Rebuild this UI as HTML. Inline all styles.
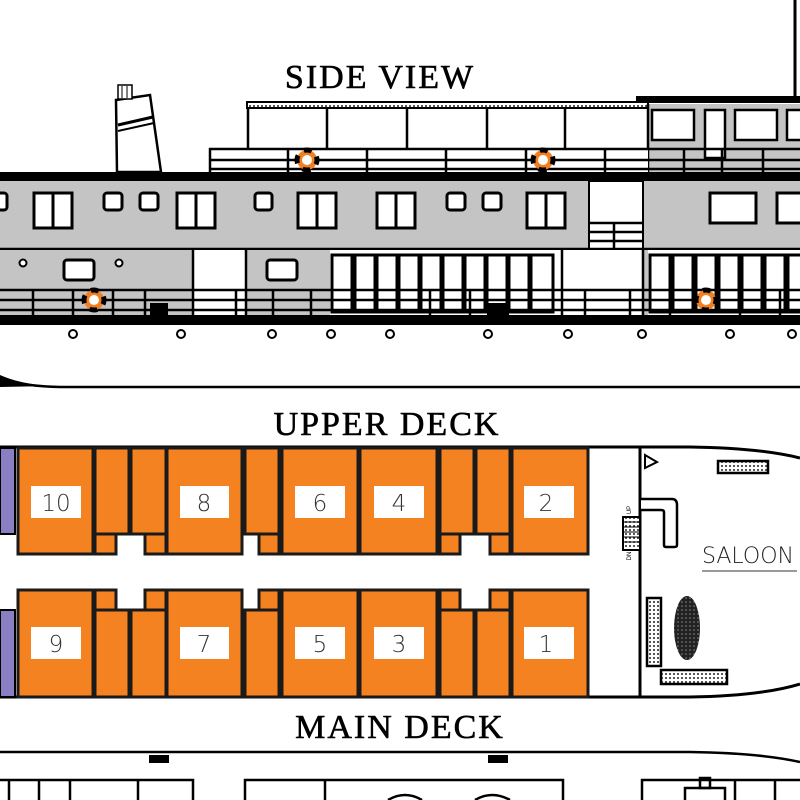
<!DOCTYPE html>
<html><head><meta charset="utf-8"><style>
html,body{margin:0;padding:0;background:#fff;}
svg{display:block;}
</style></head><body>
<svg width="800" height="800" viewBox="0 0 800 800" xmlns="http://www.w3.org/2000/svg">
<defs>
<pattern id="dots" width="4" height="4" patternUnits="userSpaceOnUse"><rect width="4" height="4" fill="#fff"/><circle cx="2" cy="2" r="1" fill="#222"/></pattern>
<pattern id="mesh" width="4" height="4" patternUnits="userSpaceOnUse"><rect width="4" height="4" fill="#222"/><circle cx="2" cy="2" r="0.8" fill="#888"/></pattern>
</defs>
<rect x="636" y="96" width="164" height="7" fill="#000"/>
<line x1="795" y1="0" x2="795" y2="97" stroke="#000" stroke-width="3"/>
<text x="380" y="88" font-family="Liberation Serif,serif" font-size="34" text-anchor="middle" letter-spacing="2" stroke="#000" stroke-width="0.6">SIDE  VIEW</text>

<polygon points="117,172 161,172 150,95 116,100" fill="#fff" stroke="#000" stroke-width="2.5"/>
<line x1="118" y1="125" x2="153" y2="117" stroke="#000" stroke-width="3"/>
<line x1="118" y1="131" x2="154" y2="123" stroke="#000" stroke-width="2"/>
<rect x="118" y="85" width="14" height="14" fill="#fff" stroke="#000" stroke-width="1.5"/>
<line x1="122" y1="86" x2="122" y2="98" stroke="#000"/><line x1="127" y1="86" x2="127" y2="98" stroke="#000"/>

<rect x="247" y="102" width="401" height="6" fill="url(#dots)" stroke="#000" stroke-width="2"/>
<g stroke="#000" stroke-width="2.5">
<line x1="248" y1="107" x2="248" y2="172"/><line x1="327" y1="107" x2="327" y2="172"/><line x1="407" y1="107" x2="407" y2="172"/><line x1="487" y1="107" x2="487" y2="172"/><line x1="565" y1="107" x2="565" y2="172"/>
</g>
<rect x="648" y="104" width="152" height="68" fill="#c4c4c4"/>
<line x1="648" y1="104" x2="648" y2="172" stroke="#000" stroke-width="2.5"/>
<g fill="#fff" stroke="#000" stroke-width="2.5">
<rect x="652" y="110" width="42" height="30"/><rect x="705" y="110" width="20" height="48"/><rect x="735" y="110" width="42" height="30"/><rect x="787" y="110" width="20" height="30"/>
</g>
<rect x="209" y="148" width="439" height="24" fill="#fff"/>
<g stroke="#000" stroke-width="2.5">
<line x1="209" y1="149" x2="800" y2="149"/><line x1="209" y1="160" x2="800" y2="160"/><line x1="209" y1="169" x2="800" y2="169"/>
<line x1="210" y1="148" x2="210" y2="172"/><line x1="288" y1="148" x2="288" y2="172"/><line x1="367" y1="148" x2="367" y2="172"/><line x1="446" y1="148" x2="446" y2="172"/><line x1="526" y1="148" x2="526" y2="172"/><line x1="605" y1="148" x2="605" y2="172"/><line x1="684" y1="148" x2="684" y2="172"/><line x1="722" y1="148" x2="722" y2="172"/><line x1="763" y1="148" x2="763" y2="172"/>
</g>
<g>
<circle cx="307" cy="160" r="10" fill="#f28020"/><circle cx="307" cy="160" r="10" fill="none" stroke="#000" stroke-width="5" stroke-dasharray="8 7.7" transform="rotate(-20 307 160)"/><circle cx="307" cy="160" r="5" fill="#fff"/>
<circle cx="543" cy="160" r="10" fill="#f28020"/><circle cx="543" cy="160" r="10" fill="none" stroke="#000" stroke-width="5" stroke-dasharray="8 7.7" transform="rotate(-20 543 160)"/><circle cx="543" cy="160" r="5" fill="#fff"/>
</g>

<rect x="0" y="172" width="800" height="9" fill="#000"/>
<rect x="0" y="181" width="800" height="68" fill="#c4c4c4"/>
<rect x="589" y="181" width="54" height="68" fill="#fff" stroke="#000" stroke-width="2"/>
<g stroke="#000" stroke-width="2.5"><line x1="589" y1="223" x2="643" y2="223"/><line x1="589" y1="232" x2="643" y2="232"/><line x1="589" y1="241" x2="643" y2="241"/><line x1="614" y1="223" x2="614" y2="249"/></g>
<g fill="#fff" stroke="#000" stroke-width="3">
<rect x="-10" y="193" width="17" height="17" rx="3"/>
<rect x="34" y="193" width="38" height="35"/><line x1="53" y1="193" x2="53" y2="228"/>
<rect x="104" y="193" width="18" height="17" rx="3"/><rect x="140" y="193" width="18" height="17" rx="3"/>
<rect x="177" y="193" width="38" height="35"/><line x1="196" y1="193" x2="196" y2="228"/>
<rect x="255" y="193" width="17" height="17" rx="3"/>
<rect x="298" y="193" width="38" height="35"/><line x1="317" y1="193" x2="317" y2="228"/>
<rect x="377" y="193" width="38" height="35"/><line x1="396" y1="193" x2="396" y2="228"/>
<rect x="447" y="193" width="18" height="17" rx="3"/><rect x="483" y="193" width="18" height="17" rx="3"/>
<rect x="527" y="193" width="38" height="35"/><line x1="546" y1="193" x2="546" y2="228"/>
<rect x="710" y="193" width="46" height="30"/><rect x="777" y="193" width="40" height="30"/>
</g>
<line x1="0" y1="249" x2="800" y2="249" stroke="#000" stroke-width="2.5"/>
<rect x="0" y="250" width="800" height="66" fill="#c4c4c4"/>
<rect x="193" y="250" width="53" height="66" fill="#fff"/>
<rect x="330" y="250" width="233" height="66" fill="#fff"/>
<rect x="563" y="250" width="80" height="66" fill="#fff"/>
<rect x="648" y="250" width="152" height="66" fill="#fff"/>
<g stroke="#000" stroke-width="2.5"><line x1="193" y1="250" x2="193" y2="316"/><line x1="246" y1="250" x2="246" y2="316"/><line x1="562" y1="250" x2="562" y2="316"/><line x1="643" y1="250" x2="643" y2="316"/></g>
<g fill="#fff" stroke="#000" stroke-width="3">
<rect x="64" y="260" width="30" height="20" rx="3"/><rect x="267" y="260" width="30" height="20" rx="3"/>
<rect x="332" y="255" width="20" height="57"/><rect x="355" y="255" width="20" height="57"/><rect x="377" y="255" width="20" height="57"/><rect x="399" y="255" width="20" height="57"/><rect x="421" y="255" width="20" height="57"/><rect x="443" y="255" width="20" height="57"/><rect x="465" y="255" width="20" height="57"/><rect x="487" y="255" width="20" height="57"/><rect x="509" y="255" width="20" height="57"/><rect x="531" y="255" width="22" height="57"/>
<rect x="650" y="255" width="20" height="57"/><rect x="673" y="255" width="20" height="57"/><rect x="696" y="255" width="20" height="57"/><rect x="719" y="255" width="20" height="57"/><rect x="742" y="255" width="20" height="57"/><rect x="765" y="255" width="20" height="57"/><rect x="788" y="255" width="20" height="57"/>
</g>
<g fill="#fff" stroke="#000" stroke-width="2"><circle cx="23" cy="263" r="3.5"/><circle cx="119" cy="263" r="3.5"/></g>
<g stroke="#000" stroke-width="2.5">
<line x1="0" y1="290" x2="800" y2="290"/><line x1="0" y1="300" x2="800" y2="300"/><line x1="0" y1="310" x2="800" y2="310"/>
<line x1="33" y1="289" x2="33" y2="316"/><line x1="73" y1="289" x2="73" y2="316"/><line x1="113" y1="289" x2="113" y2="316"/><line x1="145" y1="289" x2="145" y2="316"/><line x1="236" y1="289" x2="236" y2="316"/><line x1="273" y1="289" x2="273" y2="316"/><line x1="311" y1="289" x2="311" y2="316"/><line x1="430" y1="289" x2="430" y2="316"/><line x1="470" y1="289" x2="470" y2="316"/><line x1="585" y1="289" x2="585" y2="316"/><line x1="630" y1="289" x2="630" y2="316"/><line x1="670" y1="289" x2="670" y2="316"/><line x1="740" y1="289" x2="740" y2="316"/><line x1="780" y1="289" x2="780" y2="316"/>
</g>
<rect x="150" y="303" width="18" height="12" fill="#000"/><rect x="487" y="303" width="22" height="12" fill="#000"/>
<g>
<circle cx="94" cy="300" r="10" fill="#f28020"/><circle cx="94" cy="300" r="10" fill="none" stroke="#000" stroke-width="5" stroke-dasharray="8 7.7" transform="rotate(-20 94 300)"/><circle cx="94" cy="300" r="5" fill="#fff"/>
<circle cx="706" cy="300" r="10" fill="#f28020"/><circle cx="706" cy="300" r="10" fill="none" stroke="#000" stroke-width="5" stroke-dasharray="8 7.7" transform="rotate(-20 706 300)"/><circle cx="706" cy="300" r="5" fill="#fff"/>
</g>
<rect x="0" y="315" width="800" height="10" fill="#000"/>
<g fill="#fff" stroke="#000" stroke-width="2">
<circle cx="73" cy="334" r="4"/><circle cx="181" cy="334" r="4"/><circle cx="272" cy="334" r="4"/><circle cx="331" cy="334" r="4"/><circle cx="390" cy="334" r="4"/><circle cx="488" cy="334" r="4"/><circle cx="568" cy="334" r="4"/><circle cx="642" cy="334" r="4"/><circle cx="730" cy="334" r="4"/><circle cx="792" cy="334" r="4"/>
</g>
<path d="M0,378 Q20,386 60,387 L800,387" fill="none" stroke="#000" stroke-width="2.5"/>
<path d="M0,375 Q20,384 50,386 L0,387Z" fill="#000"/>

<text x="387" y="435" font-family="Liberation Serif,serif" font-size="34" text-anchor="middle" letter-spacing="2" stroke="#000" stroke-width="0.6">UPPER  DECK</text>
<path d="M0,447 L640,447 L690,447 Q760,448 800,458" fill="none" stroke="#000" stroke-width="3"/>
<path d="M0,697 L690,697 Q760,696 800,684" fill="none" stroke="#000" stroke-width="3"/>
<line x1="640" y1="447" x2="640" y2="697" stroke="#000" stroke-width="3"/>
<rect x="0" y="448" width="15" height="86" fill="#8b7fc4" stroke="#000" stroke-width="2"/>
<rect x="0" y="610" width="15" height="87" fill="#8b7fc4" stroke="#000" stroke-width="2"/>
<g fill="#f58220" stroke="#1a1a1a" stroke-width="3">
<rect x="18" y="448" width="75" height="106"/>
<rect x="95" y="448" width="34" height="86"/><rect x="131" y="448" width="35" height="86"/>
<rect x="95" y="534" width="21" height="20"/><rect x="145" y="534" width="21" height="20"/>
<rect x="167" y="448" width="75" height="106"/>
<rect x="245" y="448" width="34" height="86"/><rect x="259" y="534" width="20" height="20"/>
<rect x="282" y="448" width="76" height="106"/>
<rect x="360" y="448" width="77" height="106"/>
<rect x="440" y="448" width="34" height="86"/><rect x="476" y="448" width="34" height="86"/>
<rect x="440" y="534" width="20" height="20"/><rect x="490" y="534" width="20" height="20"/>
<rect x="512" y="448" width="76" height="106"/>
<rect x="18" y="590" width="75" height="107"/>
<rect x="95" y="590" width="21" height="20"/><rect x="145" y="590" width="21" height="20"/>
<rect x="95" y="610" width="34" height="87"/><rect x="131" y="610" width="35" height="87"/>
<rect x="167" y="590" width="75" height="107"/>
<rect x="259" y="590" width="20" height="20"/><rect x="245" y="610" width="34" height="87"/>
<rect x="282" y="590" width="76" height="107"/>
<rect x="360" y="590" width="77" height="107"/>
<rect x="440" y="590" width="20" height="20"/><rect x="490" y="590" width="20" height="20"/>
<rect x="440" y="610" width="34" height="87"/><rect x="476" y="610" width="34" height="87"/>
<rect x="512" y="590" width="76" height="107"/>
</g>
<g fill="#fff">
<rect x="31" y="486" width="50" height="32"/><rect x="180" y="486" width="49" height="32"/><rect x="295" y="486" width="50" height="32"/><rect x="374" y="486" width="50" height="32"/><rect x="524" y="486" width="50" height="32"/>
<rect x="31" y="627" width="50" height="32"/><rect x="180" y="627" width="49" height="32"/><rect x="295" y="627" width="50" height="32"/><rect x="374" y="627" width="50" height="32"/><rect x="524" y="627" width="50" height="32"/>
</g>
<g font-family="DejaVu Sans,Liberation Sans,sans-serif" font-size="23" font-weight="200" fill="#333" text-anchor="middle">
<text x="56" y="511">10</text><text x="204" y="511">8</text><text x="320" y="511">6</text><text x="399" y="511">4</text><text x="546" y="511">2</text>
<text x="56" y="652">9</text><text x="204" y="652">7</text><text x="320" y="652">5</text><text x="399" y="652">3</text><text x="546" y="652">1</text>
</g>
<rect x="623" y="517" width="17" height="33" fill="url(#dots)" stroke="#000" stroke-width="2"/>
<g stroke="#000" stroke-width="1"><line x1="624" y1="522" x2="639" y2="522"/><line x1="624" y1="527" x2="639" y2="527"/><line x1="624" y1="532" x2="639" y2="532"/><line x1="624" y1="537" x2="639" y2="537"/><line x1="624" y1="542" x2="639" y2="542"/></g>
<text x="631" y="510" font-family="Liberation Sans,sans-serif" font-size="6" transform="rotate(-90 631 510)" text-anchor="middle">UP</text>
<text x="631" y="556" font-family="Liberation Sans,sans-serif" font-size="6" transform="rotate(-90 631 556)" text-anchor="middle">DN</text>
<polygon points="645,455 657,462 645,468" fill="#fff" stroke="#000" stroke-width="2"/>
<rect x="718" y="461" width="50" height="12" fill="url(#dots)" stroke="#000" stroke-width="2.5"/>
<path d="M641,499 L672,499 Q677,499 677,505 L677,545 Q677,547 674,547 L666,547 Q664,547 664,545 L664,512 Q664,510 661,510 L641,510" fill="#fff" stroke="#000" stroke-width="2.5"/>
<text x="702" y="563" font-family="DejaVu Sans,Liberation Sans,sans-serif" font-size="22" font-weight="300" fill="#222">SALOON</text>
<line x1="702" y1="571" x2="797" y2="571" stroke="#999" stroke-width="2"/>
<rect x="647" y="598" width="14" height="68" fill="url(#dots)" stroke="#000" stroke-width="2.5"/>
<ellipse cx="687" cy="628" rx="13" ry="32" fill="url(#mesh)"/>
<rect x="661" y="670" width="66" height="14" fill="url(#dots)" stroke="#000" stroke-width="2.5"/>

<text x="400" y="738" font-family="Liberation Serif,serif" font-size="34" text-anchor="middle" letter-spacing="2" stroke="#000" stroke-width="0.6">MAIN  DECK</text>
<path d="M0,752 L690,752 Q760,753 800,762" fill="none" stroke="#000" stroke-width="2.5"/>
<rect x="149" y="755" width="20" height="8" fill="#000"/><rect x="488" y="755" width="20" height="8" fill="#000"/>
<g fill="none" stroke="#000" stroke-width="2.5">
<path d="M0,780 L193,780 L193,800"/><line x1="9" y1="780" x2="9" y2="800"/><line x1="39" y1="780" x2="39" y2="800"/><line x1="70" y1="780" x2="70" y2="800"/><line x1="138" y1="780" x2="138" y2="800"/>
<path d="M245,800 L245,780 L563,780 L563,800"/><line x1="325" y1="780" x2="325" y2="800"/>
<path d="M388,800 Q405,790 422,800"/><path d="M475,800 Q492,790 510,800"/>
<path d="M642,800 L642,780 L800,780"/><line x1="735" y1="780" x2="735" y2="800"/><line x1="775" y1="780" x2="775" y2="800"/>
<rect x="700" y="778" width="10" height="10"/><path d="M685,800 L685,788 L725,788 L725,800"/>
</g>
</svg>
</body></html>
